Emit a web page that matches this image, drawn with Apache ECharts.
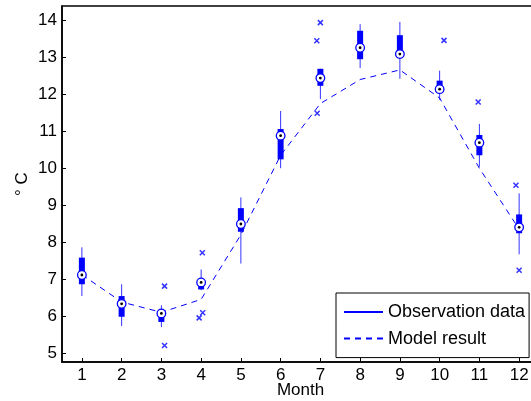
<!DOCTYPE html>
<html>
<head>
<meta charset="utf-8">
<script src="https://cdn.jsdelivr.net/npm/echarts@6/dist/echarts.min.js"></script>
<style>
html,body{margin:0;padding:0;background:#fff;}
#chart{width:531px;height:401px;}
</style>
</head>
<body>
<div id="chart"></div>
<script>
// ---- data ----
const months = [1, 2, 3, 4, 5, 6, 7, 8, 9, 10, 11, 12];
const whiskerLow  = [6.54, 5.73, 5.70, 6.70, 7.42, 10.00, 11.87, 12.71, 12.42, 11.85, 10.04, 7.67];
const q1          = [6.86, 5.98, 5.84, 6.72, 8.28, 10.24, 12.23, 12.95, 12.98, 12.07, 10.35, 8.24];
const median      = [7.11, 6.33, 6.07, 6.91, 8.49, 10.88, 12.44, 13.26, 13.09, 12.14, 10.69, 8.40];
const q3          = [7.58, 6.54, 6.16, 6.97, 8.92, 11.06, 12.69, 13.72, 13.60, 12.37, 10.90, 8.75];
const whiskerHigh = [7.86, 6.86, 6.29, 7.26, 9.21, 11.55, 12.69, 13.90, 13.96, 12.64, 11.20, 9.32];
const modelResult = [7.12, 6.38, 6.10, 6.45, 8.20, 10.35, 11.75, 12.40, 12.66, 11.90, 10.00, 8.35];
const outlierMonth = [3.08, 3.08, 4.03, 4.04, 3.95, 7.00, 6.91, 6.92, 10.11, 10.97, 11.92, 12.00];
const outlierValue = [6.81, 5.20, 7.71, 6.09, 5.95, 13.94, 13.45, 11.49, 13.46, 11.79, 9.54, 7.24];
const yTicks = [5, 6, 7, 8, 9, 10, 11, 12, 13, 14];
const xTicks = months;

const BLUE = '#0000ff';
const FONT = '"Liberation Sans", Arial, sans-serif';

const boxData = months.map((m, i) => [m, whiskerLow[i], q1[i], median[i], q3[i], whiskerHigh[i]]);
const modelData = months.map((m, i) => [m, modelResult[i]]);
const outlierData = outlierMonth.map((m, i) => [m, outlierValue[i]]);

function renderBox(params, api) {
  const x = api.value(0);
  const lo = api.coord([x, api.value(1)]);
  const b1 = api.coord([x, api.value(2)]);
  const md = api.coord([x, api.value(3)]);
  const b3 = api.coord([x, api.value(4)]);
  const hi = api.coord([x, api.value(5)]);
  const bw = 6;
  return {
    type: 'group',
    children: [
      { type: 'line', shape: { x1: lo[0], y1: lo[1], x2: hi[0], y2: hi[1] },
        style: { stroke: BLUE, lineWidth: 1, opacity: 0.8 } },
      { type: 'rect', shape: { x: b3[0] - bw / 2, y: b3[1], width: bw, height: b1[1] - b3[1] },
        style: { fill: BLUE } },
      { type: 'circle', shape: { cx: md[0], cy: md[1], r: 4.3 },
        style: { fill: '#fff', stroke: BLUE, lineWidth: 1.3 } },
      { type: 'circle', shape: { cx: md[0], cy: md[1], r: 1.4 },
        style: { fill: '#000' } }
    ]
  };
}

const chart = echarts.init(document.getElementById('chart'), null, { renderer: 'canvas' });
chart.setOption({
  backgroundColor: '#fff',
  animation: false,
  textStyle: { fontFamily: FONT },
  grid: { left: 62, top: 6, width: 477, height: 356, outerBoundsMode: 'none', containLabel: false,
          show: true, borderColor: '#000', borderWidth: 1.5, backgroundColor: 'transparent' },
  xAxis: {
    type: 'value', min: 0.5, max: 12.5,
    name: 'Month', nameLocation: 'middle', nameGap: 20, nameMoveOverlap: false,
    nameTextStyle: { fontSize: 17, color: '#000', fontFamily: FONT },
    axisLine: { show: true, lineStyle: { color: '#000', width: 1.5 } },
    axisTick: { show: true, inside: true, length: 4, customValues: xTicks, lineStyle: { color: '#000' } },
    axisLabel: { customValues: xTicks, fontSize: 17, color: '#000', margin: 5, fontFamily: FONT },
    splitLine: { show: false }
  },
  yAxis: {
    type: 'value', min: 4.756, max: 14.39,
    name: '° C', nameLocation: 'middle', nameGap: 31, nameRotate: 90, nameMoveOverlap: false,
    nameTextStyle: { fontSize: 17, color: '#000', fontFamily: FONT },
    axisLine: { show: true, lineStyle: { color: '#000', width: 1.5 } },
    axisTick: { show: true, inside: true, length: 4, customValues: yTicks, lineStyle: { color: '#000' } },
    axisLabel: { customValues: yTicks, fontSize: 17, color: '#000', margin: 5, fontFamily: FONT },
    splitLine: { show: false }
  },
  legend: {
    data: ['Observation data', 'Model result'],
    orient: 'vertical', left: 336, top: 293,
    padding: [10, 4, 10, 7],
    itemWidth: 39, itemHeight: 18, itemGap: 8.6,
    backgroundColor: '#fff', borderColor: '#000', borderWidth: 1,
    itemStyle: { opacity: 0 },
    textStyle: { fontSize: 18, color: '#000', fontFamily: FONT },
    selectedMode: false
  },
  series: [
    {
      name: 'Model result', type: 'line', data: modelData, symbol: 'none',
      lineStyle: { color: BLUE, width: 1, type: [6, 5] }, itemStyle: { color: BLUE }, z: 2
    },
    {
      name: 'boxes', type: 'custom', data: boxData, renderItem: renderBox,
      encode: { x: 0, y: [1, 2, 3, 4, 5] }, z: 3
    },
    {
      name: 'outliers', type: 'scatter', data: outlierData,
      symbol: 'path://M0,0L10,10M10,0L0,10', symbolSize: 5,
      itemStyle: { color: 'none', borderColor: BLUE, borderWidth: 1.5 }, z: 3
    },
    {
      name: 'Observation data', type: 'line', data: [], symbol: 'none',
      lineStyle: { color: BLUE, width: 1 }, itemStyle: { color: BLUE }
    }
  ]
});
</script>
</body>
</html>
